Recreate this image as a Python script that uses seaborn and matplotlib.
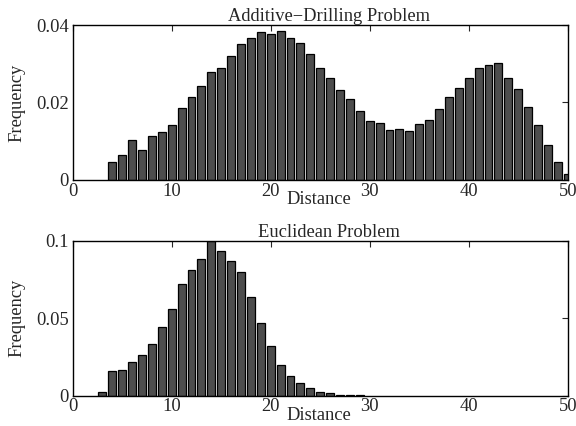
import numpy as np
import pandas as pd
import matplotlib
matplotlib.use("Agg")
import matplotlib.pyplot as plt
import seaborn as sns

# Distance histogram of the additive-drilling instances (bins 4..50)
drill_dist = list(range(4, 51))
drill_freq = [0.0046, 0.0065, 0.0103, 0.0078, 0.0114, 0.0124, 0.0141, 0.0185,
              0.0215, 0.0242, 0.0278, 0.0290, 0.0321, 0.0350, 0.0366, 0.0381,
              0.0378, 0.0384, 0.0366, 0.0353, 0.0325, 0.0290, 0.0262, 0.0232,
              0.0209, 0.0178, 0.0153, 0.0147, 0.0130, 0.0132, 0.0126, 0.0145,
              0.0155, 0.0182, 0.0215, 0.0238, 0.0262, 0.0288, 0.0296, 0.0301,
              0.0262, 0.0236, 0.0189, 0.0143, 0.0091, 0.0047, 0.0015]

# Distance histogram of the Euclidean instances (bins 3..29)
eucl_dist = list(range(3, 30))
eucl_freq = [0.0022, 0.0161, 0.0166, 0.0219, 0.0260, 0.0331, 0.0441, 0.0559,
             0.0720, 0.0809, 0.0882, 0.1000, 0.0933, 0.0867, 0.0796, 0.0639,
             0.0467, 0.0318, 0.0198, 0.0127, 0.0080, 0.0047, 0.0022, 0.0015,
             0.0006, 0.0005, 0.0004]

titles = ["Additive\u2212Drilling Problem", "Euclidean Problem"]
x_ticks = [0, 10, 20, 30, 40, 50]
y_ticks = [[0, 0.02, 0.04], [0, 0.05, 0.1]]
y_ticklabels = [["0", "0.02", "0.04"], ["0", "0.05", "0.1"]]
y_limits = [0.04, 0.1]

sns.set_style("white")
plt.rcParams["font.family"] = ["Liberation Serif", "DejaVu Serif"]
FS = 13.3

fig = plt.figure(figsize=(5.76, 4.26), dpi=100)
ax_top = fig.add_axes([0.1262, 0.5775, 0.8594, 0.3638])
ax_bot = fig.add_axes([0.1262, 0.0711, 0.8594, 0.3638])

datasets = [(drill_dist, drill_freq), (eucl_dist, eucl_freq)]
for i, (ax, (dist, freq)) in enumerate(zip([ax_top, ax_bot], datasets)):
    df = pd.DataFrame({"Distance": dist, "Frequency": freq})
    sns.barplot(data=df, x="Distance", y="Frequency", ax=ax, native_scale=True,
                width=0.8, color="#4d4d4d", saturation=1, edgecolor="black",
                linewidth=0.9)
    ax.set_xlim(0, 50)
    ax.set_ylim(0, y_limits[i])
    ax.set_xticks(x_ticks)
    ax.set_xticklabels([str(t) for t in x_ticks], fontsize=FS)
    ax.set_yticks(y_ticks[i])
    ax.set_yticklabels(y_ticklabels[i], fontsize=FS)
    ax.tick_params(direction="in", length=4, width=0.8, top=True, right=True,
                   labeltop=False, labelright=False)
    ax.tick_params(axis="x", pad=2)
    ax.tick_params(axis="y", pad=3)
    for sp in ax.spines.values():
        sp.set_visible(True)
        sp.set_color("black")
        sp.set_linewidth(1.0)
    ax.set_title(titles[i], fontsize=FS, pad=3, x=0.518)
    ax.set_xlabel("Distance", fontsize=FS)
    ax.xaxis.set_label_coords(0.497, -0.07)
    ax.set_ylabel("Frequency", fontsize=FS)
    ax.yaxis.set_label_coords(-0.095, 0.5)
    ax.grid(False)

fig.savefig("out.png", dpi=100, facecolor="white")
